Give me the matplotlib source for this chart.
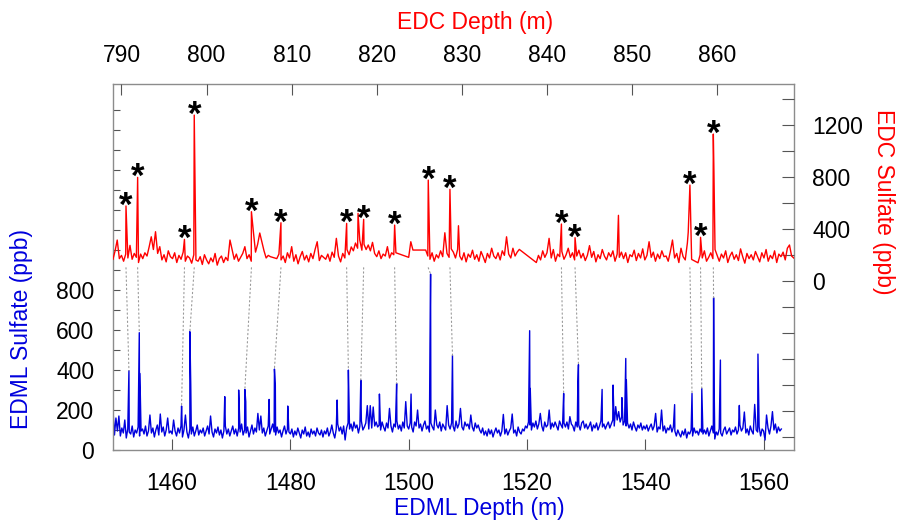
import numpy as np
import matplotlib.pyplot as plt
from matplotlib.patches import ConnectionPatch

plt.rcParams['font.family'] = ['Liberation Sans', 'DejaVu Sans']

nan = np.nan
red = '#ff0000'
blue = '#0000dd'

# EDC sulfate (ppb), one sample every 0.25 m from 789.0 m, nan = missing sample
edc_start = 789.0
edc_step = 0.25
edc_base = [
    165, 230, 313, 170, 195, 150, 205, 175, 272, 165, 210, 180, 140, 205, 170, 215, 190, 260, 338, 240,
    377, 210, 262, 160, 200, 145, 230, 185, 170, 215, 140, 195, 165, 220, 150, 190, 175, 135, 200, 160,
    150, 185, 125, 200, 160, 130, 175, 145, 210, 120, 170, 190, 140, 180, 155, 313, 240, 165, 205, 150,
    180, 210, 262, 170, 200, 150, 377, 220, 280, 367, 300, 230, 175, 195, 185, nan, nan, 170, 205, 160,
    190, 140, 215, 175, 262, 150, 200, 130, 185, 225, 160, 195, 145, 210, 170, 240, 300, 155, 195, 180,
    165, 205, 150, 220, 180, 326, 190, 145, 210, 175, 240, 200, 260, 230, 290, 250, 313, 235, 280, 240,
    275, 230, 295, 210, 185, 230, 170, 205, 190, 262, 175, 215, 200, 215, nan, nan, nan, nan, nan, 180,
    300, 236, nan, nan, nan, nan, nan, 236, 190, 165, 215, 150, 200, 175, 230, 185, 369, 210, 180, 245,
    220, 175, 240, 190, 160, 215, 145, 205, 180, 235, 165, 200, 150, 225, 185, 140, 210, 175, 250, 190,
    170, 215, 160, 230, 195, 338, 205, 175, 250, 190, 220, 241, nan, nan, nan, nan, nan, nan, nan, 140,
    195, 160, 230, 180, 215, 326, 175, 240, 150, 205, 185, 225, 165, 200, 250, 180, 215, 160, 190, 235,
    175, 210, 155, 195, 270, 180, 225, 145, 200, 170, 240, 190, 160, 215, 185, 230, 150, 205, 180, 220,
    170, 215, 140, 200, 185, 235, 155, 210, 175, 245, 160, 195, 300, 180, 220, 150, 205, 170, 230, 185,
    190, 150, 225, 313, 175, 210, 140, 250, 185, 160, 290, nan, 164, nan, nan, 138, 200, 175, 230, 150,
    180, 215, 170, 240, 195, 150, 205, 175, 230, 140, 190, 220, 165, 200, 155, 245, 185, 135, 210, 170,
    200, 160, 225, 185, 145, 215, 175, 240, 150, 195, 170, 230, 140, 205, 185, 220, 160, 250, 275, 190,
    175,
]
# narrow spikes (EDC depth m, ppb)
edc_peak_depth = [790.53, 791.9, 797.4, 798.55, 805.27, 808.74, 816.46, 817.8, 818.46, 822.1,
                  826.05, 828.6, 829.6, 841.7, 843.3, 848.4, 856.6, 856.8, 858.05, 859.55, 859.62]
edc_peak_val = [575, 795, 318, 1274, 531, 446, 441, 518, 472, 428,
                774, 703, 423, 436, 331, 503, 372, 736, 334, 1128, 844]

# EDML sulfate (ppb), one sample every 0.25 m from 1450.0 m
edml_start = 1450.0
edml_step = 0.25
edml_base = [
    200, 75, 160, 95, 170, 70, 110, 85, 150, 60, 105, 90, 80, 120, 65, 100, 85, 115, 70, 95,
    105, 80, 120, 70, 95, 175, 85, 110, 65, 100, 125, 75, 180, 90, 115, 70, 100, 160, 85, 95,
    80, 150, 95, 70, 110, 85, 120, 65, 100, 175, 90, 60, 105, 80, 115, 70, 95, 125, 75, 100,
    85, 110, 70, 95, 120, 80, 170, 90, 65, 105, 85, 115, 75, 100, 60, 95, 120, 80, 105, 70,
    95, 120, 80, 105, 70, 110, 90, 130, 75, 100, 85, 115, 65, 95, 125, 80, 110, 90, 183, 100,
    170, 85, 110, 70, 95, 120, 80, 105, 130, 90, 75, 115, 85, 100, 65, 95, 120, 80, 105, 90,
    80, 105, 65, 95, 75, 110, 85, 60, 100, 80, 115, 70, 90, 65, 105, 80, 95, 70, 110, 85,
    75, 100, 65, 95, 80, 110, 70, 90, 125, 85, 60, 105, 130, 95, 115, 80, 120, 50, 110, 135,
    105, 130, 95, 140, 110, 125, 85, 120, 145, 100, 115, 135, 222, 105, 222, 110, 215, 120, 140, 115,
    125, 100, 140, 115, 95, 135, 110, 208, 120, 90, 130, 115, 145, 105, 125, 95, 140, 110, 242, 120,
    105, 135, 115, 90, 140, 120, 200, 110, 130, 95, 125, 145, 105, 120, 90, 135, 115, 100, 200, 125,
    110, 140, 95, 130, 115, 100, 222, 125, 105, 135, 120, 95, 145, 110, 130, 208, 115, 100, 140, 120,
    130, 105, 175, 115, 95, 135, 110, 125, 100, 85, 110, 75, 95, 70, 105, 80, 100, 65, 90, 110,
    85, 100, 70, 95, 178, 80, 105, 75, 95, 110, 180, 85, 100, 70, 115, 90, 80, 105, 95, 120,
    110, 140, 125, 100, 135, 115, 145, 105, 130, 183, 120, 95, 140, 115, 125, 200, 105, 135, 115, 140,
    120, 100, 145, 125, 110, 135, 115, 140, 105, 167, 130, 120, 95, 140, 115, 125, 100, 135, 145, 110,
    130, 105, 120, 140, 95, 125, 110, 135, 100, 120, 145, 115, 130, 105, 125, 140, 110, 130, 150, 120,
    217, 150, 192, 140, 165, 125, 145, 120, 135, 110, 130, 100, 140, 115, 95, 125, 110, 135, 100, 120,
    105, 125, 95, 115, 130, 100, 120, 183, 90, 115, 105, 200, 95, 120, 85, 110, 100, 125, 90, 115,
    95, 70, 100, 80, 65, 95, 75, 105, 60, 90, 80, 100, 70, 110, 85, 95, 75, 105, 90, 80,
    100, 80, 110, 70, 95, 120, 85, 55, 90, 75, 105, 85, 70, 100, 115, 80, 95, 110, 75, 100,
    90, 115, 80, 100, 125, 95, 110, 190, 85, 105, 75, 120, 95, 80, 228, 100, 90, 115, 70, 105,
    95, 50, 175, 110, 80, 120, 192, 100, 130, 85, 115, 95, 105,
]
edml_peak_depth = [1452.7, 1454.45, 1454.55, 1461.6, 1463.0, 1463.15, 1468.9, 1471.25, 1472.3,
                   1472.45, 1476.4, 1477.3, 1477.45, 1479.55, 1487.9, 1489.8, 1491.9, 1495.05,
                   1497.96, 1500.4, 1503.6, 1503.7, 1507.4, 1520.45, 1520.55, 1526.2, 1528.6,
                   1528.7, 1532.7, 1534.55, 1536.05, 1536.7, 1536.8, 1544.96, 1547.9, 1549.55,
                   1551.55, 1551.65, 1552.7, 1555.9, 1559.05]
edml_peak_val = [397, 587, 383, 220, 592, 330, 267, 300, 303,
                 242, 253, 405, 325, 220, 250, 400, 350, 280,
                 333, 280, 533, 880, 473, 597, 308, 283, 342,
                 427, 303, 325, 262, 458, 350, 227, 283, 308,
                 762, 303, 450, 223, 480]

# matched volcanic events: EDC depth <-> EDML depth
tie_edc = [790.53, 791.9, 797.4, 798.55, 805.27, 808.74, 816.46, 818.46,
           822.1, 826.05, 828.6, 841.7, 843.3, 856.8, 858.05, 859.55]
tie_edml = [1452.7, 1454.45, 1461.6, 1463.0, 1472.3, 1477.3, 1489.8, 1491.9,
            1497.96, 1503.7, 1507.4, 1526.2, 1528.7, 1547.9, 1549.55, 1551.55]


def merge(start, step, base, pk_d, pk_v):
    base = np.array(base, dtype=float)
    d = start + step * np.arange(len(base))
    keep = ~np.isnan(base)
    d = np.concatenate([d[keep], pk_d])
    v = np.concatenate([base[keep], pk_v])
    order = np.argsort(d, kind='stable')
    return d[order], v[order]


edc_d, edc_v = merge(edc_start, edc_step, edc_base, edc_peak_depth, edc_peak_val)
edml_d, edml_v = merge(edml_start, edml_step, edml_base, edml_peak_depth, edml_peak_val)

fig = plt.figure(figsize=(8.98, 5.21), dpi=100)
rect = [0.1258, 0.1363, 0.7581, 0.7019]
ax = fig.add_axes(rect)
ax2 = fig.add_axes(rect, frameon=False)
ax2.patch.set_visible(False)

ax.plot(edml_d, edml_v, color=blue, lw=1.0)
ax2.plot(edc_d, edc_v, color=red, lw=1.0)

ax.set_xlim(1450, 1565.1)
ax.set_ylim(0, 1830)
ax2.set_xlim(789.0, 869.0)
ax2.set_ylim(-1302, 1511)

ax.set_xticks([1460, 1480, 1500, 1520, 1540, 1560])
yt = list(range(0, 1800, 100))
ax.set_yticks(yt)
ax.set_yticklabels([str(v) if v <= 800 and v % 200 == 0 else '' for v in yt])

ax2.set_xticks([790, 800, 810, 820, 830, 840, 850, 860])
yt2 = list(range(-1200, 1500, 200))
ax2.set_yticks(yt2)
ax2.set_yticklabels([str(v) if v >= 0 and v % 400 == 0 else '' for v in yt2])

ax.xaxis.set_ticks_position('bottom')
ax.yaxis.set_ticks_position('left')
ax2.xaxis.set_ticks_position('top')
ax2.yaxis.set_ticks_position('right')

tick_col = '#555555'
ax.tick_params(axis='x', direction='in', length=8, width=0.8, color=tick_col, pad=15.5, labelsize=16.5)
ax.tick_params(axis='y', direction='in', length=5.3, width=0.8, color=tick_col, pad=13.5, labelsize=16.5)
ax2.tick_params(axis='x', direction='in', length=8, width=0.8, color=tick_col, pad=12.5, labelsize=16.5)
ax2.tick_params(axis='y', direction='in', length=8.5, width=0.8, color=tick_col, pad=13.5, labelsize=16.5)
for s in ax.spines.values():
    s.set_color('#8c8c8c')
    s.set_linewidth(1.0)

# dotted ties between matching peaks
tie_val = np.interp(tie_edml, edml_d, edml_v)
for e, m, v in zip(tie_edc, tie_edml, tie_val):
    cp = ConnectionPatch(xyA=(e, 100), coordsA=ax2.transData,
                         xyB=(m, v), coordsB=ax.transData,
                         color='#999999', lw=0.8, linestyle=(0, (1.2, 2.5)))
    fig.add_artist(cp)

star_val = np.interp(tie_edc, edc_d, edc_v)
for e, v in zip(tie_edc, star_val):
    ax2.annotate('*', xy=(e, v), xytext=(0, -7), textcoords='offset points',
                 ha='center', va='baseline', fontsize=25, fontweight='bold')

fig.text(475 / 898, 1 - 22 / 521, 'EDC Depth (m)', color=red, fontsize=16.5, ha='center', va='center')
fig.text(479 / 898, 1 - 509 / 521, 'EDML Depth (m)', color=blue, fontsize=16.5, ha='center', va='center')
fig.text(22 / 898, 1 - 329 / 521, 'EDML Sulfate (ppb)', color=blue, fontsize=16.5,
         ha='center', va='center', rotation=90)
fig.text(884 / 898, 1 - 202 / 521, 'EDC Sulfate (ppb)', color=red, fontsize=16.5,
         ha='center', va='center', rotation=-90)

fig.savefig('out.png', dpi=100)
